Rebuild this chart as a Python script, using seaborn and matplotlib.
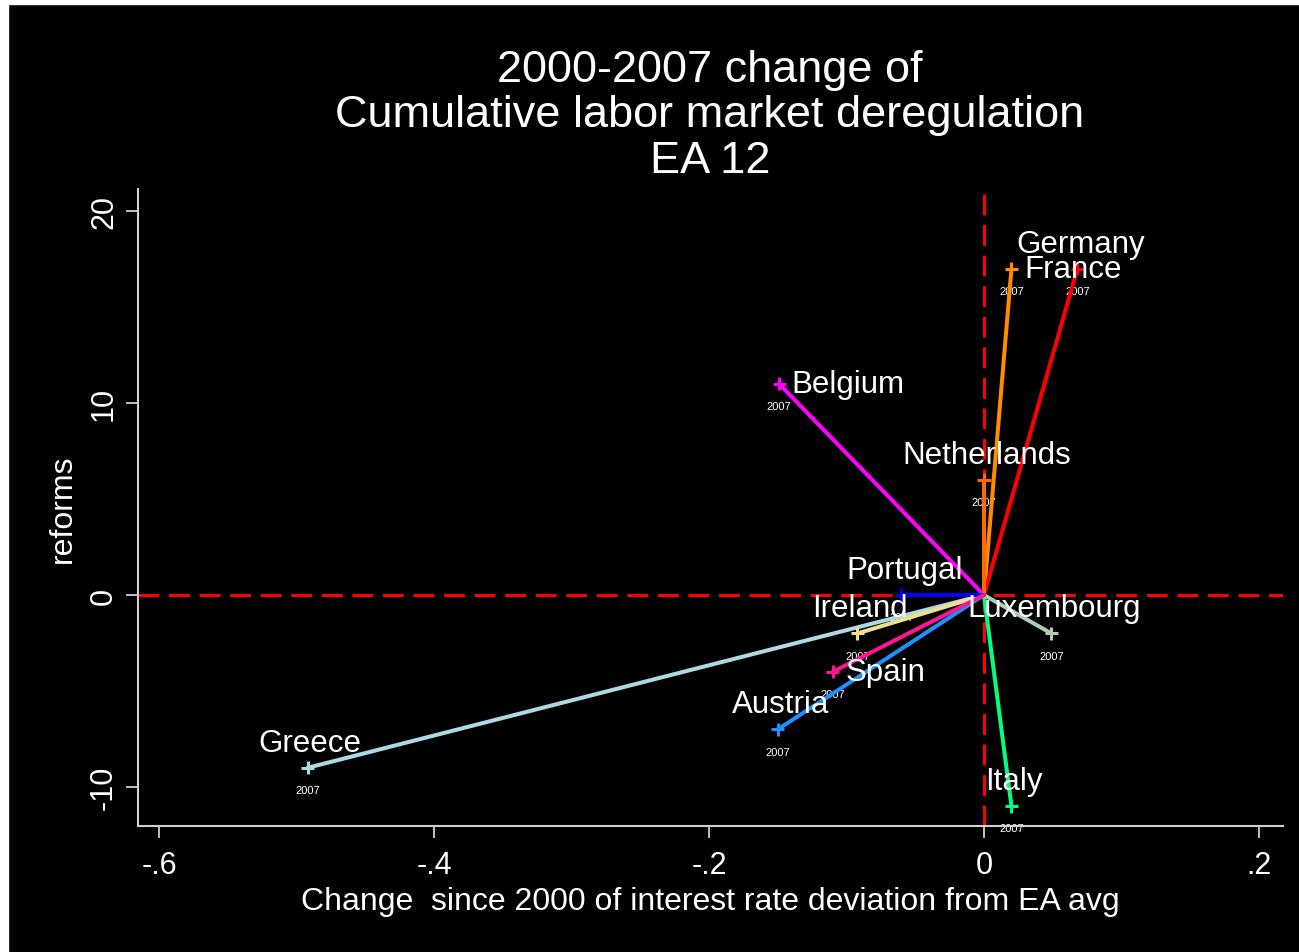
import matplotlib
matplotlib.use("Agg")
import matplotlib.pyplot as plt
import pandas as pd
import seaborn as sns
from matplotlib.patches import Rectangle

# 2000 -> 2007 changes per country (origin = 2000)
countries = ["Austria", "Belgium", "France", "Germany", "Greece", "Ireland",
             "Italy", "Luxembourg", "Netherlands", "Portugal", "Spain"]
rate_change = [-0.150, -0.149, 0.020, 0.068, -0.492, -0.092,
               0.020, 0.049, 0.000, -0.060, -0.110]
reforms = [-7, 11, 17, 17, -9, -2, -11, -2, 6, 0, -4]
line_colors = ["#1E90FF", "#FF00FF", "#FF8C00", "#FF0000", "#ADD8E6", "#F0E08C",
               "#00FF7F", "#B4CCB4", "#FF6A00", "#0000FF", "#FF1493"]
label_side = ["above", "right", "right", "above", "above", "above",
              "above", "above", "above", "above", "right"]
x_ticks = [-0.6, -0.4, -0.2, 0, 0.2]
x_tick_labels = ["-.6", "-.4", "-.2", "0", ".2"]
y_ticks = [-10, 0, 10, 20]

rows = []
for c, dx, dy in zip(countries, rate_change, reforms):
    rows.append({"country": c, "year": 2000, "rate": 0.0, "reforms": 0.0})
    rows.append({"country": c, "year": 2007, "rate": dx, "reforms": dy})
df = pd.DataFrame(rows)
palette = dict(zip(countries, line_colors))

sns.set_style("dark", {"axes.facecolor": "black", "figure.facecolor": "black",
                       "xtick.bottom": True, "ytick.left": True})
plt.rcParams["font.family"] = ["Liberation Sans", "DejaVu Sans"]
plt.rcParams["lines.scale_dashes"] = False

fig = plt.figure(figsize=(12.99, 9.53), dpi=100)
fig.patch.set_facecolor("black")
ax = fig.add_axes([138 / 1299, 126 / 953, (1283 - 138) / 1299, (827 - 190) / 953])
ax.set_facecolor("black")

# zero reference lines
ax.axvline(0, color="#FF0000", lw=2.2, dashes=(15, 7), zorder=1)
ax.axhline(0, color="#FF0000", lw=2.2, dashes=(15, 7), zorder=1)

sns.lineplot(data=df, x="rate", y="reforms", hue="country", palette=palette,
             sort=False, estimator=None, lw=2.9, legend=False, ax=ax, zorder=3)
end = df[df["year"] == 2007]
sns.scatterplot(data=end, x="rate", y="reforms", hue="country", palette=palette,
                marker="+", s=90, linewidth=2.2, legend=False, ax=ax, zorder=4)

# year tags under each end point (drawn beneath the segments)
for c, dx, dy, side in zip(countries, rate_change, reforms, label_side):
    ax.annotate("2007", (dx, dy), xytext=(0, -16), textcoords="offset points",
                ha="center", va="center", color="white", fontsize=8, zorder=2)
for c, dx, dy, side in zip(countries, rate_change, reforms, label_side):
    if side == "above":
        ax.annotate(c, (dx, dy), xytext=(2, 18), textcoords="offset points",
                    ha="center", va="center", color="white", fontsize=22.5, zorder=6)
    else:
        ax.annotate(c, (dx, dy), xytext=(9, 0), textcoords="offset points",
                    ha="left", va="center", color="white", fontsize=22.5, zorder=6)

ax.set_xlim(-0.6153, 0.2175)
ax.set_ylim(-12.03, 21.15)
ax.set_xticks(x_ticks)
ax.set_xticklabels(x_tick_labels)
ax.set_yticks(y_ticks)
ax.set_yticklabels([str(v) for v in y_ticks], rotation=90, va="center")
ax.tick_params(axis="both", colors="#D0D0D0", length=8.6, width=1.3, direction="out",
               labelcolor="white", labelsize=22, bottom=True, left=True)
ax.tick_params(axis="x", pad=9)
ax.tick_params(axis="y", pad=5)
ax.grid(False)
for s in ["top", "right"]:
    ax.spines[s].set_visible(False)
for s in ["left", "bottom"]:
    ax.spines[s].set_visible(True)
    ax.spines[s].set_color("#D0D0D0")
    ax.spines[s].set_linewidth(1.5)

ax.set_xlabel("Change  since 2000 of interest rate deviation from EA avg",
              color="white", fontsize=23, labelpad=4)
ax.set_ylabel("reforms", color="white", fontsize=23, labelpad=8)

fig.text(710 / 1299, 1 - 50 / 953,
         "2000-2007 change of\nCumulative labor market deregulation\nEA 12",
         ha="center", va="top", color="white", fontsize=32.5, linespacing=1.14)

# thin white frame on top and left edges
fig.patches.append(Rectangle((0, 1 - 5 / 953), 1, 5 / 953, transform=fig.transFigure,
                             color="white", zorder=10))
fig.patches.append(Rectangle((0, 0), 8 / 1299, 1, transform=fig.transFigure,
                             color="white", zorder=10))

fig.savefig("out.png", dpi=100, facecolor="black")
